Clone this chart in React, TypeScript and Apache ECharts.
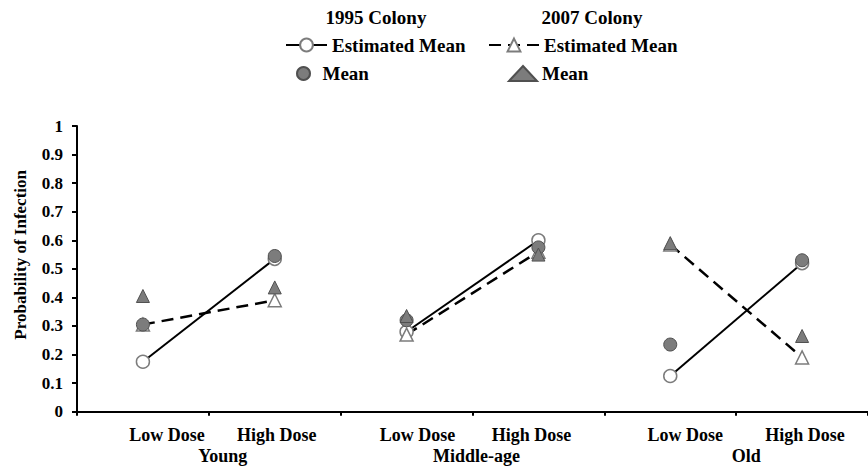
import { useEffect, useRef } from 'react';
import * as echarts from 'echarts';

// ---- data ----
const doses = ['Low Dose', 'High Dose'];
const ageGroups = ['Young', 'Middle-age', 'Old'];
const est1995 = [0.175, 0.535, 0.28, 0.6, 0.125, 0.52];
const mean1995 = [0.305, 0.545, 0.32, 0.575, 0.235, 0.53];
const est2007 = [0.305, 0.39, 0.27, 0.56, 0.585, 0.19];
const mean2007 = [0.405, 0.435, 0.335, 0.55, 0.59, 0.265];
const colonyTitles = ['1995 Colony', '2007 Colony'];

// ---- layout (label nudges, px) ----
const doseLabelShift = [24, 2, 11, -7, 15, 3];
const groupLabelShift = [14, 4, 10];

const FONT = "'Liberation Serif', 'Times New Roman', serif";
const GRAY = '#7c7c7c';
const DARK = '#505050';

const categories = ageGroups.flatMap((g) => doses.map((d) => `${g} ${d}`));

function shiftPad(s: number) {
  return s >= 0 ? [0, 0, 0, 2 * s] : [0, -2 * s, 0, 0];
}

export default function App() {
  const ref = useRef<HTMLDivElement>(null);
  useEffect(() => {
    document.body.style.margin = '0';
    const chart = echarts.init(ref.current!, null, { renderer: 'svg' });

    const doseRich: Record<string, any> = {};
    doseLabelShift.forEach((s, i) => {
      doseRich['s' + i] = { fontFamily: FONT, fontWeight: 'bold', fontSize: 18, color: '#000', padding: shiftPad(s) };
    });
    const groupRich: Record<string, any> = {};
    groupLabelShift.forEach((s, i) => {
      groupRich['g' + i] = { fontFamily: FONT, fontWeight: 'bold', fontSize: 18, color: '#000', padding: shiftPad(s) };
    });

    const lineSeries = (name: string, values: number[], dashed: boolean) =>
      ageGroups.map((_, g) => ({
        type: 'line',
        name,
        xAxisIndex: 0,
        z: 2,
        data: values.map((v, i) => (Math.floor(i / 2) === g ? v : '-')),
        symbol: dashed ? 'triangle' : 'circle',
        symbolSize: 13,
        showSymbol: true,
        lineStyle: { color: '#000', width: dashed ? 2.5 : 2, type: dashed ? [12, 7] : 'solid' },
        itemStyle: { color: '#fff', borderColor: GRAY, borderWidth: 1.5 },
        emphasis: { disabled: true },
      }));

    const meanSeries = (name: string, values: number[], symbol: string) => ({
      type: 'scatter',
      name,
      xAxisIndex: 0,
      z: 5,
      data: values,
      symbol,
      symbolSize: 13,
      itemStyle: { color: GRAY, borderColor: DARK, borderWidth: 1, opacity: 1 },
      emphasis: { disabled: true },
    });

    const legendText = { fontFamily: FONT, fontWeight: 'bold', fontSize: 19, color: '#000' };
    const strip = (n: string) => n.replace(/^\d{4} /, '');

    chart.setOption({
      animation: false,
      backgroundColor: '#fff',
      grid: { left: 77, top: 126, width: 800, height: 285.7 },
      graphic: colonyTitles.map((t, i) => ({
        type: 'text',
        x: i === 0 ? 376 : 592,
        y: 17.5,
        style: { text: t, font: `bold 19px ${FONT}`, fill: '#000', align: 'center', verticalAlign: 'middle' },
      })),
      legend: [
        {
          data: ['1995 Estimated Mean'], left: 285, top: 35.5, itemWidth: 41, itemHeight: 16, padding: 0,
          selectedMode: false, formatter: strip, textStyle: legendText,
        },
        {
          data: ['1995 Mean'], left: 296, top: 64, itemWidth: 28, itemHeight: 13, padding: 0,
          selectedMode: false, formatter: strip, textStyle: legendText,
        },
        {
          data: ['2007 Estimated Mean'], left: 488, top: 35.5, itemWidth: 50, itemHeight: 16, padding: 0,
          selectedMode: false, formatter: strip, textStyle: legendText,
        },
        {
          data: ['2007 Mean'], left: 508, top: 64, itemWidth: 28, itemHeight: 15, padding: 0, symbolKeepAspect: false,
          selectedMode: false, formatter: strip, textStyle: legendText,
        },
      ],
      xAxis: [
        {
          type: 'category',
          data: categories,
          position: 'bottom',
          boundaryGap: true,
          axisLine: { show: true, lineStyle: { color: '#000', width: 2 } },
          axisTick: { show: true, length: 4, lineStyle: { color: '#000', width: 2 } },
          axisLabel: {
            interval: 0,
            margin: 14,
            formatter: (_v: string, i: number) => `{s${i}|${doses[i % 2]}}`,
            rich: doseRich,
          },
          splitLine: { show: false },
        },
        {
          type: 'category',
          data: ageGroups,
          position: 'bottom',
          boundaryGap: true,
          axisLine: { show: false },
          axisTick: { show: false },
          axisLabel: {
            interval: 0,
            margin: 35,
            formatter: (_v: string, i: number) => `{g${i}|${ageGroups[i]}}`,
            rich: groupRich,
          },
          splitLine: { show: false },
        },
      ],
      yAxis: {
        type: 'value',
        min: 0,
        max: 1,
        interval: 0.1,
        name: 'Probability of Infection',
        nameLocation: 'middle',
        nameGap: 48,
        nameTextStyle: { fontFamily: FONT, fontWeight: 'bold', fontSize: 17, color: '#000', padding: [0, 0, 0, 28] },
        axisLine: { show: true, lineStyle: { color: '#000', width: 2 } },
        axisTick: { show: true, length: 5, lineStyle: { color: '#000', width: 2 } },
        axisLabel: { margin: 14, fontFamily: FONT, fontWeight: 'bold', fontSize: 17, color: '#000' },
        splitLine: { show: false },
      },
      series: [
        ...lineSeries('1995 Estimated Mean', est1995, false),
        ...lineSeries('2007 Estimated Mean', est2007, true),
        meanSeries('1995 Mean', mean1995, 'circle'),
        meanSeries('2007 Mean', mean2007, 'triangle'),
      ],
    });
    return () => chart.dispose();
  }, []);
  return <div ref={ref} style={{ width: 868, height: 468 }} />;
}
